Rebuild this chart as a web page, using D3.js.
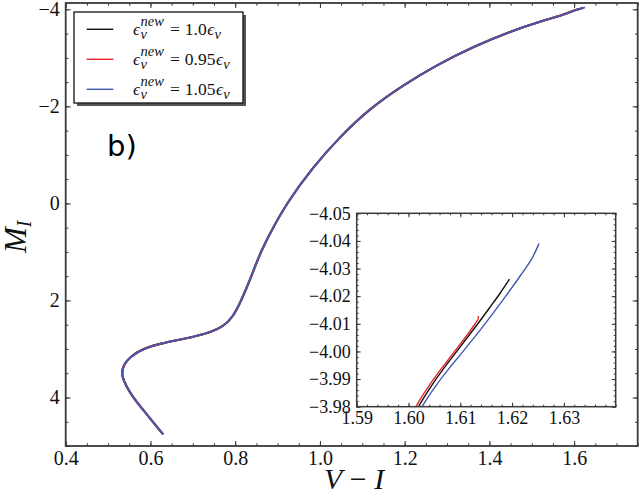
<!DOCTYPE html>
<html>
  <head>
    <meta charset="utf-8">
    <title>CMD with neutrino emissivity</title>
    <script src="https://d3js.org/d3.v7.min.js"></script>
    <style>
      body { margin: 0; background: #fff; }
      .serif { font-family: "Liberation Serif", "DejaVu Serif", serif; fill: #111; }
    </style>
  </head>
  <body>
    <svg width="640" height="495"></svg>

    <script>
      // common track (V-I, M_I)
      const trackVI = [0.630, 0.583, 0.552, 0.536, 0.532, 0.536, 0.552, 0.583, 0.623, 0.662,
                       0.701, 0.741, 0.772, 0.795, 0.815, 0.835, 0.857, 0.882, 0.921, 0.984,
                       1.047, 1.118, 1.197, 1.275, 1.362, 1.448, 1.527, 1.570];
      const trackMI = [4.76, 4.26, 3.92, 3.64, 3.51, 3.33, 3.16, 2.99, 2.89, 2.82,
                       2.75, 2.66, 2.54, 2.34, 1.99, 1.58, 1.06, 0.62, 0.0, -0.755,
                       -1.37, -1.96, -2.44, -2.85, -3.23, -3.54, -3.77, -3.87];

      // tips of the tracks
      const tipBlackVI = [1.6013, 1.6072, 1.6135, 1.6158, 1.6177, 1.6195];
      const tipBlackMI = [-3.980, -3.995, -4.0102, -4.0162, -4.0210, -4.0262];
      const tipRedVI   = [1.6008, 1.6061, 1.6113, 1.6130, 1.6136, 1.6134];
      const tipRedMI   = [-3.980, -3.9933, -4.0058, -4.0104, -4.0120, -4.0128];
      const tipBlueVI  = [1.6018, 1.6081, 1.6142, 1.6190, 1.6220, 1.6240, 1.6252];
      const tipBlueMI  = [-3.980, -3.9945, -4.0084, -4.0205, -4.0285, -4.0338, -4.0391];

      const seriesNames  = ["1.0", "0.95", "1.05"];
      const seriesColors = ["#111111", "#e8262a", "#4459ad"];

      const mainXTicks = [0.4, 0.6, 0.8, 1.0, 1.2, 1.4, 1.6];
      const mainYTicks = [-4, -2, 0, 2, 4];
      const insetXTicks = [1.59, 1.60, 1.61, 1.62, 1.63];
      const insetYTicks = [-4.05, -4.04, -4.03, -4.02, -4.01, -4.00, -3.99, -3.98];

      const SERIF = "'Liberation Serif', 'DejaVu Serif', serif";

      function joinTrack(tipVI, tipMI) {
        const vi = trackVI.concat(tipVI), mi = trackMI.concat(tipMI);
        return vi.map((v, i) => ({ vi: v, mi: mi[i] }));
      }
      const series = [
        joinTrack(tipBlackVI, tipBlackMI),
        joinTrack(tipRedVI, tipRedMI),
        joinTrack(tipBlueVI, tipBlueMI),
      ];

      function frame(g, x, y, props) {
        const { majorX, majorY, minorX, minorY, fmtX, fmtY, big, small, fontSize, stroke } = props;
        const [x0, x1] = x.range(), [y0, y1] = y.range();
        const style = sel => {
          sel.attr("font-family", SERIF);
          sel.select(".domain").remove();
          sel.selectAll("line").attr("stroke", "#333").attr("stroke-width", 1);
          sel.selectAll("text").attr("font-size", fontSize).attr("font-family", SERIF)
            .style("font-family", SERIF).attr("fill", "#111");
        };
        // labelled bottom / left, bare top / right, ticks pointing in
        g.append("g").attr("transform", `translate(0,${y1})`)
          .call(d3.axisBottom(x).tickValues(majorX).tickSize(-big).tickPadding(5).tickFormat(fmtX)).call(style);
        g.append("g").attr("transform", `translate(${x0},0)`)
          .call(d3.axisLeft(y).tickValues(majorY).tickSize(-big).tickPadding(6).tickFormat(fmtY)).call(style);
        g.append("g").attr("transform", `translate(0,${y0})`)
          .call(d3.axisTop(x).tickValues(majorX).tickSize(-big).tickFormat("")).call(style);
        g.append("g").attr("transform", `translate(${x1},0)`)
          .call(d3.axisRight(y).tickValues(majorY).tickSize(-big).tickFormat("")).call(style);
        // minor ticks
        g.append("g").attr("transform", `translate(0,${y1})`)
          .call(d3.axisBottom(x).tickValues(minorX).tickSize(-small).tickFormat("")).call(style);
        g.append("g").attr("transform", `translate(0,${y0})`)
          .call(d3.axisTop(x).tickValues(minorX).tickSize(-small).tickFormat("")).call(style);
        g.append("g").attr("transform", `translate(${x0},0)`)
          .call(d3.axisLeft(y).tickValues(minorY).tickSize(-small).tickFormat("")).call(style);
        g.append("g").attr("transform", `translate(${x1},0)`)
          .call(d3.axisRight(y).tickValues(minorY).tickSize(-small).tickFormat("")).call(style);

        g.append("rect").attr("x", x0).attr("y", y0).attr("width", x1 - x0).attr("height", y1 - y0)
          .attr("fill", "none").attr("stroke", "#3a3a3a").attr("stroke-width", stroke);
      }

      function steps(a, b, s) {
        const n = Math.round((b - a) / s);
        return d3.range(n + 1).map(i => +(a + i * s).toFixed(4));
      }

      function main() {
        const svg = d3.select("svg");

        // ---- main panel
        const x = d3.scaleLinear().domain([0.4, 1.75]).range([65.7, 637.7]);
        const y = d3.scaleLinear().domain([-4.13, 5.0]).range([3, 446]);

        const line = d3.line().x(d => x(d.vi)).y(d => y(d.mi)).curve(d3.curveBasis);
        const gMain = svg.append("g");
        gMain.selectAll(".track").data(series).join("path")
          .attr("class", "track")
          .attr("d", line)
          .attr("fill", "none")
          .attr("stroke", (d, i) => seriesColors[i])
          .attr("stroke-width", (d, i) => i === 2 ? 1.9 : 2.1);

        frame(gMain, x, y, {
          majorX: mainXTicks, majorY: mainYTicks,
          minorX: steps(0.4, 1.75, 0.05), minorY: steps(-4, 5, 0.5),
          fmtX: d3.format(".1f"), fmtY: d3.format("d"),
          big: 5, small: 2.7, fontSize: 20, stroke: 1.8,
        });

        // axis labels
        const yl = svg.append("text").attr("class", "serif")
          .attr("transform", "translate(26,253) rotate(-90)")
          .attr("font-size", 31).attr("font-style", "italic");
        yl.append("tspan").text("M");
        yl.append("tspan").attr("font-size", 20).attr("dy", 5).text("I");

        svg.append("text").attr("class", "serif")
          .attr("x", 354).attr("y", 489).attr("text-anchor", "middle")
          .attr("font-size", 30)
          .html('<tspan font-style="italic">V</tspan> \u2212 <tspan font-style="italic">I</tspan>');

        svg.append("text")
          .attr("x", 107).attr("y", 156)
          .attr("font-family", "DejaVu Sans").attr("font-size", 29).attr("fill", "#000")
          .text("b)");

        // ---- legend
        const lg = svg.append("g");
        lg.append("rect").attr("x", 77).attr("y", 15).attr("width", 169).attr("height", 91)
          .attr("fill", "#555");
        lg.append("rect").attr("x", 74).attr("y", 12).attr("width", 169).attr("height", 91)
          .attr("fill", "#fff").attr("stroke", "#222").attr("stroke-width", 1.4);

        seriesNames.forEach((name, i) => {
          const ry = 29.3 + i * 30, base = ry + 5.3;
          lg.append("line").attr("x1", 86.7).attr("x2", 113.3).attr("y1", ry).attr("y2", ry)
            .attr("stroke", seriesColors[i]).attr("stroke-width", 1.4);
          const t = (tx, ty, s, size, italic) => lg.append("text").attr("class", "serif")
            .attr("x", tx).attr("y", ty).attr("font-size", size)
            .attr("font-style", italic ? "italic" : null).text(s);
          let cx = 133;
          const eps = t(cx, base, "\u03f5", 17.5, true);
          cx += eps.node().getComputedTextLength() + 0.5;
          const sup = t(cx, base - 8.5, "new", 14.5, true);
          t(cx, base + 4.5, "\u03bd", 14.5, true);
          cx += sup.node().getComputedTextLength() + 6;
          const eq = t(cx, base, "=", 17.5, false);
          cx += eq.node().getComputedTextLength() + 5;
          const num = t(cx, base, name, 17.5, false);
          cx += num.node().getComputedTextLength() + 0.5;
          const eps2 = t(cx, base, "\u03f5", 17.5, true);
          cx += eps2.node().getComputedTextLength() + 0.3;
          t(cx, base + 4.5, "\u03bd", 14.5, true);
        });

        // ---- inset
        const ix = d3.scaleLinear().domain([1.59, 1.64]).range([356.7, 615.7]);
        const iy = d3.scaleLinear().domain([-4.05, -3.98]).range([213.3, 406.7]);
        const gIn = svg.append("g");
        gIn.append("rect").attr("x", 356.7).attr("y", 213.3).attr("width", 259).attr("height", 193.4)
          .attr("fill", "#fff");
        svg.append("clipPath").attr("id", "insetClip").append("rect")
          .attr("x", 356.7).attr("y", 213.3).attr("width", 259).attr("height", 193.4);
        const iline = d3.line().x(d => ix(d.vi)).y(d => iy(d.mi)).curve(d3.curveBasis);
        gIn.append("g").attr("clip-path", "url(#insetClip)")
          .selectAll("path").data(series).join("path")
          .attr("d", d => iline(d.slice(trackVI.length - 1)))
          .attr("fill", "none")
          .attr("stroke", (d, i) => seriesColors[i])
          .attr("stroke-width", 1.4);

        frame(gIn, ix, iy, {
          majorX: insetXTicks, majorY: insetYTicks,
          minorX: steps(1.59, 1.64, 0.002), minorY: steps(-4.05, -3.98, 0.002),
          fmtX: d3.format(".2f"), fmtY: d3.format(".2f"),
          big: 4, small: 2, fontSize: 18, stroke: 1.5,
        });
      }
      main();
    </script>
  </body>
</html>
